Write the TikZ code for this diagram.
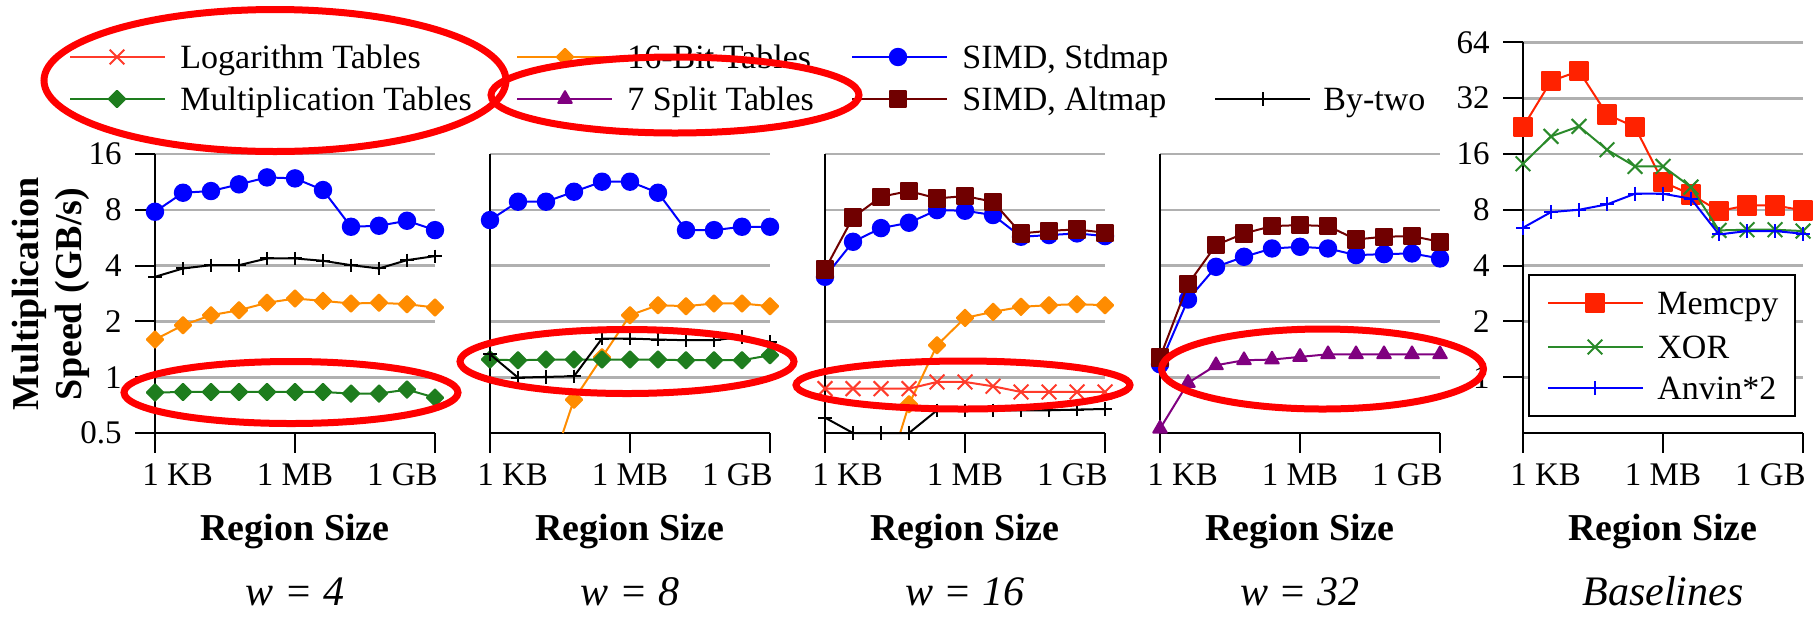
\documentclass[tikz,border=0pt]{standalone}
\usepackage{fontspec}
\setmainfont{Liberation Serif}
\usetikzlibrary{plotmarks}

\definecolor{logred}{HTML}{FF3B2B}
\definecolor{multgreen}{HTML}{1E7D1E}
\definecolor{bitorange}{HTML}{FF8C00}
\definecolor{splitpurple}{HTML}{800080}
\definecolor{stdblue}{HTML}{0000FF}
\definecolor{altbrown}{HTML}{700000}
\definecolor{memred}{HTML}{FF2200}
\definecolor{xorgreen}{HTML}{2A8A2A}
\definecolor{gridgray}{HTML}{B0B0B0}
\definecolor{markred}{HTML}{FF0000}

\tikzset{
  gridline/.style={gridgray, line width=1.3pt},
  axisline/.style={black, line width=1pt},
  ticklabel/.style={inner sep=0pt, font=\fontsize{16.5}{18}\selectfont},
  legtext/.style={inner sep=0pt, anchor=base west, font=\fontsize{17}{20}\selectfont},
  axtitle/.style={inner sep=0pt, anchor=base, font=\fontsize{19}{21.5}\selectfont\bfseries},
  paneltitle/.style={inner sep=0pt, anchor=base, font=\fontsize{21}{24}\selectfont\itshape},
  curve/.style={line width=1pt, line join=round},
  slog/.style={curve, logred, mark=x, mark size=5.2pt, mark options={solid}},
  smult/.style={curve, multgreen, mark=square*, mark size=2.9pt, mark options={rotate=45, solid}},
  sbit/.style={curve, bitorange, mark=square*, mark size=2.9pt, mark options={rotate=45, solid}},
  ssplit/.style={curve, splitpurple, mark=triangle*, mark size=3.9pt, mark options={solid}},
  sstd/.style={curve, stdblue, mark=*, mark size=4.1pt, mark options={solid}},
  salt/.style={curve, altbrown, mark=square*, mark size=4.1pt, mark options={solid}},
  sbytwo/.style={curve, black, mark=+, mark size=3.3pt, mark options={solid}},
  smem/.style={curve, memred, mark=square*, mark size=4.6pt, mark options={solid}},
  sxor/.style={curve, xorgreen, mark=x, mark size=5.2pt, mark options={solid}},
  sanvin/.style={curve, stdblue, mark=+, mark size=3.5pt, mark options={solid}},
  callout/.style={markred, line width=3.5pt},
}

\begin{document}
\begin{tikzpicture}[x=0.5pt, y=-0.5pt]
\useasboundingbox (0,0) rectangle (1819,617);

% ---------- legend across the top ----------
\draw[slog, mark indices={2}]    plot coordinates {(70,57) (117,57) (165,57)};
\node[legtext] (legLog) at (180,68) {Logarithm Tables};
\draw[smult, mark indices={2}]   plot coordinates {(70,99) (117,99) (165,99)};
\node[legtext] (legMult) at (180,110) {Multiplication Tables};
\draw[sbit, mark indices={2}]    plot coordinates {(517,57) (565,57) (612,57)};
\node[legtext] (legBit) at (627,68) {16-Bit Tables};
\draw[ssplit, mark indices={2}]  plot coordinates {(517,99) (565,99) (612,99)};
\node[legtext] (legSplit) at (627,110) {7 Split Tables};
\draw[sstd, mark indices={2}]    plot coordinates {(852,57) (898,57) (947,57)};
\node[legtext] (legStd) at (962,68) {SIMD, Stdmap};
\draw[salt, mark indices={2}]    plot coordinates {(852,99) (898,99) (947,99)};
\node[legtext] (legAlt) at (962,110) {SIMD, Altmap};
\draw[sbytwo, mark indices={2}]  plot coordinates {(1215,99) (1263,99) (1310,99)};
\node[legtext] (legByTwo) at (1323,110) {By-two};

% ---------- panel frames, grids and axis labels ----------
\foreach \xo/\top/\name in {155/4/w = 4, 490/4/w = 8, 825/4/w = 16, 1160/4/w = 32, 1523/6/Baselines}{
  \begin{scope}[shift={(\xo,377.2)}, x=14pt, y=27.9pt]
    \foreach \l in {0,...,\top} \draw[gridline] (0,\l) -- (10,\l);
    \draw[axisline] (0,\top) -- (0,-1) -- (10,-1);
    \foreach \t in {0,5,10} \draw[axisline] (\t,-1) -- ++(0,-10pt);
  \end{scope}
  \node[ticklabel, anchor=base west] (kb\xo) at (\xo-13,485) {1 KB};
  \node[ticklabel, anchor=base] (mb\xo) at (\xo+140,485) {1 MB};
  \node[ticklabel, anchor=base east] (gb\xo) at (\xo+283,485) {1 GB};
  \node[axtitle] (rs\xo) at (\xo+140,540) {Region Size};
  \node[paneltitle] (title\xo) at (\xo+140,605) {\name};
}

% y ticks of the first panel
\begin{scope}[shift={(155,377.2)}, x=14pt, y=27.9pt]
  \foreach \l/\v in {-1/0.5, 0/1, 1/2, 2/4, 3/8, 4/16}{
    \draw[axisline] (0,\l) -- ++(-10pt,0);
    \node[ticklabel, anchor=east] (ya\l) at ([xshift=-16.5pt]0,\l) {\v};
  }
\end{scope}
% y ticks of the baselines panel
\begin{scope}[shift={(1523,377.2)}, x=14pt, y=27.9pt]
  \foreach \l/\v in {0/1, 1/2, 2/4, 3/8, 4/16, 5/32, 6/64}{
    \draw[axisline] (0,\l) -- ++(-10pt,0);
    \node[ticklabel, anchor=east] (yb\l) at ([xshift=-16.5pt]0,\l) {\v};
  }
\end{scope}

\node[axtitle, anchor=center, rotate=90, align=center] (ylabel) at (51,294)
  {Multiplication\\Speed (GB/s)};

% ---------- data: log2 of speed in GB/s, one point per 4x region size ----------
% w = 4
\begin{scope}[shift={(155,377.2)}, x=14pt, y=27.9pt]
  \draw[sbit] plot coordinates {(0,0.675) (1,0.932) (2,1.111) (3,1.201) (4,1.333) (5,1.410) (6,1.368) (7,1.321) (8,1.333) (9,1.309) (10,1.249)};
  \draw[smult] plot coordinates {(0,-0.276) (1,-0.264) (2,-0.264) (3,-0.264) (4,-0.264) (5,-0.264) (6,-0.264) (7,-0.294) (8,-0.294) (9,-0.222) (10,-0.366)};
  \draw[sstd] plot coordinates {(0,2.965) (1,3.306) (2,3.336) (3,3.456) (4,3.581) (5,3.563) (6,3.354) (7,2.696) (8,2.714) (9,2.804) (10,2.636)};
  \draw[sbytwo] plot coordinates {(0,1.799) (1,1.949) (2,2.008) (3,2.008) (4,2.128) (5,2.128) (6,2.086) (7,2.008) (8,1.949) (9,2.098) (10,2.170)};
\end{scope}

% w = 8
\begin{scope}[shift={(490,377.2)}, x=14pt, y=27.9pt]
  \draw[curve, bitorange] (2.6,-1) -- (3,-0.402);
  \draw[sbit] plot coordinates {(3,-0.402) (4,0.358) (5,1.111) (6,1.291) (7,1.273) (8,1.321) (9,1.321) (10,1.273)};
  \draw[smult] plot coordinates {(0,0.316) (1,0.304) (2,0.316) (3,0.316) (4,0.316) (5,0.316) (6,0.316) (7,0.304) (8,0.304) (9,0.304) (10,0.394)};
  \draw[sstd] plot coordinates {(0,2.816) (1,3.145) (2,3.145) (3,3.324) (4,3.504) (5,3.504) (6,3.306) (7,2.636) (8,2.636) (9,2.696) (10,2.696)};
  \draw[sbytwo] plot coordinates {(0,0.411) (1,-0.007) (2,0.005) (3,0.017) (4,0.693) (5,0.693) (6,0.675) (7,0.663) (8,0.663) (9,0.722) (10,0.633)};
\end{scope}

% w = 16
\begin{scope}[shift={(825,377.2)}, x=14pt, y=27.9pt]
  \draw[curve, bitorange] (2.685,-1) -- (3,-0.486);
  \draw[sbit] plot coordinates {(3,-0.486) (4,0.573) (5,1.063) (6,1.171) (7,1.261) (8,1.291) (9,1.309) (10,1.291)};
  \draw[slog] plot coordinates {(0,-0.205) (1,-0.205) (2,-0.205) (3,-0.205) (4,-0.085) (5,-0.085) (6,-0.163) (7,-0.264) (8,-0.264) (9,-0.264) (10,-0.264)};
  \draw[sstd] plot coordinates {(0,1.799) (1,2.427) (2,2.672) (3,2.768) (4,2.995) (5,2.983) (6,2.906) (7,2.517) (8,2.547) (9,2.577) (10,2.529)};
  \draw[salt] plot coordinates {(0,1.931) (1,2.864) (2,3.234) (3,3.336) (4,3.205) (5,3.246) (6,3.145) (7,2.577) (8,2.624) (9,2.648) (10,2.589)};
  \draw[sbytwo] plot coordinates {(0,-0.725) (1,-1) (2,-1) (3,-1) (4,-0.593) (5,-0.593) (6,-0.593) (7,-0.593) (8,-0.593) (9,-0.580) (10,-0.570)};
\end{scope}

% w = 32
\begin{scope}[shift={(1160,377.2)}, x=14pt, y=27.9pt]
  \draw[sstd] plot coordinates {(0,0.232) (1,1.392) (2,1.978) (3,2.158) (4,2.307) (5,2.337) (6,2.307) (7,2.188) (8,2.206) (9,2.218) (10,2.128)};
  \draw[salt] plot coordinates {(0,0.352) (1,1.667) (2,2.367) (3,2.577) (4,2.708) (5,2.726) (6,2.708) (7,2.469) (8,2.517) (9,2.529) (10,2.427)};
  \draw[ssplit] plot coordinates {(0,-0.922) (1,-0.103) (2,0.214) (3,0.304) (4,0.316) (5,0.364) (6,0.411) (7,0.411) (8,0.411) (9,0.411) (10,0.411)};
\end{scope}

% baselines
\begin{scope}[shift={(1523,377.2)}, x=14pt, y=27.9pt]
  \draw[smem] plot coordinates {(0,4.483) (1,5.307) (2,5.486) (3,4.710) (4,4.483) (5,3.497) (6,3.276) (7,2.977) (8,3.079) (9,3.079) (10,2.989)};
  \draw[sxor] plot coordinates {(0,3.826) (1,4.315) (2,4.495) (3,4.076) (4,3.778) (5,3.778) (6,3.407) (7,2.631) (8,2.643) (9,2.643) (10,2.619)};
  \draw[sanvin] plot coordinates {(0,2.679) (1,2.959) (2,3.001) (3,3.097) (4,3.288) (5,3.288) (6,3.198) (7,2.559) (8,2.619) (9,2.619) (10,2.571)};
\end{scope}

% legend box of the baselines panel
\draw[line width=1pt, fill=white] (1529,275) rectangle (1795,416);
\draw[smem, mark indices={2}]   plot coordinates {(1548,303) (1595,303) (1643,303)};
\node[legtext] (legMem) at (1657,314) {Memcpy};
\draw[sxor, mark indices={2}]   plot coordinates {(1548,347) (1595,347) (1643,347)};
\node[legtext] (legXor) at (1657,358) {XOR};
\draw[sanvin, mark indices={2}] plot coordinates {(1548,388) (1595,388) (1643,388)};
\node[legtext] (legAnvin) at (1657,399) {Anvin*2};

% ---------- highlighted regions ----------
\draw[callout] (275,80.5) ellipse [x radius=115.5pt, y radius=35.5pt];
\draw[callout] (675,95) ellipse [x radius=92pt, y radius=19pt];
\draw[callout] (291,392.5) ellipse [x radius=83.5pt, y radius=15.5pt];
\draw[callout] (627,361.5) ellipse [x radius=83.5pt, y radius=16pt];
\draw[callout] (963,385) ellipse [x radius=83.5pt, y radius=12pt];
\draw[callout] (1322.5,369) ellipse [x radius=80.5pt, y radius=20pt];
\end{tikzpicture}
\end{document}
